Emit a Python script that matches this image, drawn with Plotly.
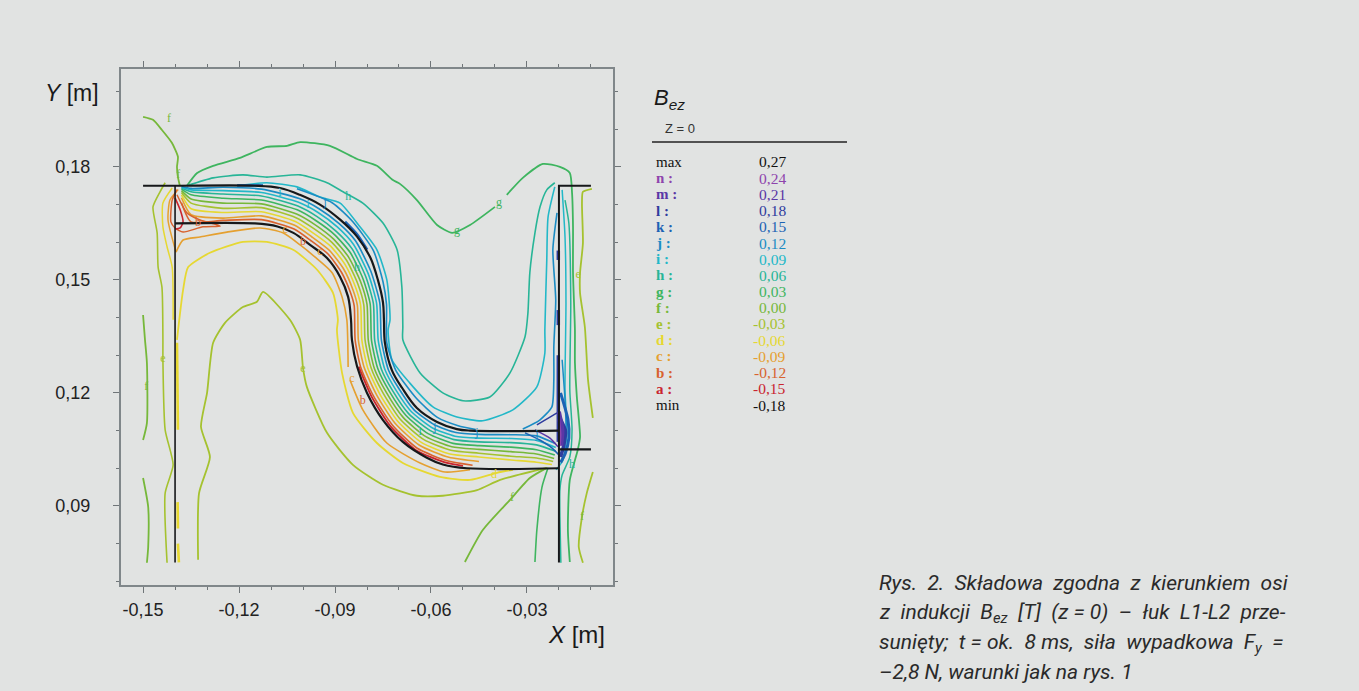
import plotly.graph_objects as go

W, H = 1359, 691
BG = "#e1e3e2"

# level colours
C = dict(n="#8e44ad", m="#5a37a6", l="#2f3c9e", k="#1c62b4", j="#1b8cc4", i="#22b8c8",
         h="#27b597", g="#3eb55f", f="#76b83a", e="#a5c22f", d="#e6d832", c="#e5a030",
         b="#d8622e", a="#c9252f")

# conductors (mm)
outer_x = [-150, -140, -115, -107.2, -101, -94.7, -88.4, -83.1, -79, -76.6, -75, -74.7, -74.4, -72.2, -69, -64.4, -58.1, -51.9, -47.8, -20]
outer_y = [175, 175, 175, 174.4, 172.6, 170, 166, 161.5, 156, 150, 144, 139.4, 133.3, 126, 121.3, 116, 112.3, 110.4, 110, 110]
inner_x = [-140, -115, -108, -103, -97.8, -92.5, -88.4, -85.9, -85, -84.7, -83.1, -80, -75, -68.8, -61.3, -56.3, -48.8, -20]
inner_y = [165, 165, 164.2, 162.5, 159.3, 155.8, 150.8, 145.5, 139.4, 134, 127, 120, 112.8, 107, 102.8, 101, 100, 100]
left_x = [-140, -140]
left_y = [175, 75]
right_x = [-10, -20, -20]
right_y = [175, 175, 75]
stub_x = [-20, -10]
stub_y = [105, 105]

# contour lines between the conductors
j_band_x = [-138, -135, -125, -113, -101.2, -95, -88.8, -83.6, -78.8, -76, -75.5, -73.3, -70, -65.3, -58.8, -52.2, -45, -35, -27, -21]
j_band_y = [174.8, 174.3, 174.6, 174.1, 171.6, 168.9, 165, 160.4, 152.3, 143.9, 134, 126.1, 121.1, 115.5, 111.5, 109.5, 109, 108.9, 108.6, 106.5]
i_band_x = [-138, -135, -125, -113, -101.4, -95.3, -89.2, -84.2, -79.6, -77, -76.5, -74.4, -71, -66.1, -59.5, -52.5, -45, -35, -27, -21]
i_band_y = [174.6, 173.9, 173.7, 173.2, 170.6, 167.9, 164, 159.4, 151.6, 143.8, 134, 126.2, 120.8, 115, 110.7, 108.5, 108, 107.9, 107.4, 105.5]
h_band_x = [-138, -135, -125, -113, -101.6, -95.6, -89.6, -84.7, -80.4, -78, -77.6, -75.5, -72, -67, -60.2, -52.8, -45, -35, -27, -21]
h_band_y = [174.4, 173.4, 172.8, 172.3, 169.6, 166.8, 162.9, 158.3, 150.9, 143.7, 134, 126.3, 120.6, 114.5, 110, 107.6, 107, 106.8, 106.2, 104.5]
g_band_x = [-138, -135, -125, -113, -101.8, -95.9, -90, -85.2, -81.2, -79, -78.6, -76.6, -73, -67.8, -60.9, -53.1, -45, -35, -27, -21.3]
g_band_y = [174.1, 172.6, 171.7, 171.2, 168.6, 165.7, 161.9, 157.2, 150.2, 143.6, 134, 126.4, 120.4, 114, 109.2, 106.6, 106, 105.6, 104.9, 103.5]
f_band_x = [-138, -135, -125, -113, -102, -96.3, -90.5, -85.8, -82, -80, -79.6, -77.7, -74, -68.7, -61.6, -53.5, -45, -35, -27, -21.5]
f_band_y = [173.7, 171.5, 170.4, 170.2, 167.5, 164.7, 160.9, 156.1, 149.5, 143.5, 134, 126.5, 120.2, 113.5, 108.4, 105.7, 105, 104.4, 103.8, 102.6]
e_band_x = [-138, -135, -125, -113, -102.2, -96.6, -90.9, -86.3, -82.8, -81, -80.6, -78.7, -75, -69.6, -62.2, -53.8, -45, -35, -27, -21.8]
e_band_y = [173.2, 170.4, 169, 169.2, 166.5, 163.6, 159.9, 155.1, 148.8, 143.4, 134, 126.6, 120, 113, 107.6, 104.8, 104, 103.2, 102.7, 101.8]
d_band_x = [-138, -135, -125, -113, -102.4, -96.9, -91.3, -86.8, -83.6, -82, -81.6, -79.8, -76, -70.4, -62.9, -54.1, -45, -35, -27, -22.2]
d_band_y = [172.6, 168.9, 167.9, 168.1, 165.5, 162.5, 158.9, 154, 148.1, 143.3, 134, 126.7, 119.7, 112.5, 106.8, 103.8, 103, 102.2, 101.6, 101]
c_band_x = [-138, -135, -125, -113, -102.6, -97.2, -91.7, -87.3, -84.4, -83, -82.7, -80.9, -77, -71.3, -63.6, -54.4, -45]
c_band_y = [171.8, 167.3, 166.4, 167, 164.5, 161.4, 157.8, 152.9, 147.4, 143.2, 134, 126.8, 119.5, 112, 106.1, 102.9, 101.8]
b_band_x = [-138, -135, -125, -113, -102.8, -97.5, -92.1, -87.9, -85.2, -84, -83.7, -82, -78, -72.1, -64.3, -54.7, -47]
b_band_y = [170.5, 165.4, 165.8, 166, 163.5, 160.4, 156.8, 151.9, 146.7, 143.1, 134, 126.9, 119.2, 111.5, 105.3, 101.9, 100.8]
a_band_x = [-82.6, -78.6, -72.7, -64.7, -55, -50]
a_band_y = [127, 119.1, 111.2, 104.8, 101.4, 100.6]

# contour lines outside the band
f_top_x = [-150, -146.9, -144.1, -141, -139.1, -139.4, -139.1, -138.5]
f_top_y = [193.3, 192.5, 189.8, 186.4, 182.7, 180, 177.3, 175]
g_main_x = [-136.3, -133.1, -128.1, -119.7, -111.3, -105, -100.9, -91.6, -83.1, -76.9, -71.9, -69.7, -64.4, -58.1, -53.4, -47.8, -40, None, -36.3, -31.3, -25, -19.7, -16.6, -15.9, -15.6, -15.6, -15, -15, -14.4, -13.4, -14.1, -16.6, -17.2, -16.6]
g_main_y = [175, 178.4, 180.3, 182.4, 185.3, 185.6, 186.6, 185.6, 182.1, 180.3, 176.5, 175.5, 171.2, 164.6, 162.5, 164.6, 169.4, None, 172.6, 177.1, 180.8, 180, 178.4, 173.1, 164.1, 151.9, 136.7, 128, 118.9, 108.3, 104.9, 96.9, 83.6, 75.1]
g_low_x = [-23.4, -25.3, -26.9, -27.5]
g_low_y = [100.1, 95, 83.6, 75.1]
f_right_x = [-9.7, -12.5, -12.8, -12.5, -13.4, -13.4, -11.9, -10.9, -9.4, None, -9.4, -11.3, -12.8, -13.8, -12.5]
f_right_y = [174.2, 173.4, 170.4, 159.8, 151.9, 146.5, 137.5, 123.4, 113.4, None, 99, 93.4, 87.1, 79.1, 74.9]
f_low_x = [-49.4, -43.8, -35.3, -29.1, -23.8]
f_low_y = [75.1, 83.6, 91.6, 97.4, 100.1]
f_left_x = [-150, -149.4, -148.8, -148.8, -150, None, -150, -148.4, -148.4, -148.8]
f_left_y = [140.7, 134.1, 128, 112, 107.5, None, 97.4, 89.7, 79.1, 74.9]
e_left_x = [-143.1, -144.7, -146.9, -145.6, -145.3, -144.1, -143.8, -143.8, -143.1, -140.6, -143.1, -142.5]
e_left_y = [175.8, 173.4, 169.4, 162.5, 153.4, 148.1, 134.1, 128.8, 110.2, 100.9, 93.4, 74.9]
e_peak_x = [-132.8, -132.5, -129.1, -131.9, -130, -128.1, -124.4, -118.8, -114.4, -112.5, -104.1, -100.9, -100, -98.8, -92.5, -84.4, -75, -64.4, -56.3, -45.6, -38.4, -23.8]
e_peak_y = [75.7, 93.4, 103, 111, 120, 133.3, 138.6, 142.8, 144.2, 146.8, 139.4, 134.1, 126.6, 121.6, 109.4, 100.9, 95.6, 92.7, 92.7, 94.2, 96.9, 100.1]
d_left_x = [-140.9, -143.8, -143.8, -142.5, -140.9, -140.6]
d_left_y = [174.4, 170.4, 164.1, 158.8, 153.4, 139.4]
d_wire_x = [-139.4, -139.1, None, -139.2, -139.1, None, -139.1, -138.8]
d_wire_y = [133.3, 110.2, None, 91, 84, None, 80, 75]
d_inner_x = [-139.4, -137.5, -135.9, -129.1, -118.8, -111.3, -103.1, -95.6, -90.6, -89.1, -89.4, -87.8, -84.4, -76.9, -68.8, -57.2, -47.8, -39.4, -34.4]
d_inner_y = [134.1, 147.3, 153.4, 157.2, 160.1, 160.1, 158, 152.7, 146.5, 139.4, 136.7, 125.3, 114.7, 106.7, 101.4, 97.7, 96.9, 98.8, 99.6]
c_left_x = [-139, -141.6, -142.2, -139.7]
c_left_y = [174, 171.2, 165.9, 157.4]
c_inner_x = [-139.7, -137.5, -132.2, -123.8, -113.4, -106.3, -100.9, -96.3, -90.9, -87.8, -86.3, -85.9, None, -85.3, -81.3, -73.8, -63.4, -55.6, -47.8]
c_inner_y = [157.4, 160.6, 161.4, 162.7, 163.8, 162.5, 159.3, 156.1, 151.9, 145.5, 139.4, 126.9, None, 123.4, 115.5, 106.7, 101.4, 99, 99.6]
b_loop_x = [-139.4, -136.3, -132.2, -125.9, -131.3, -137.5, -140, -141.3, -140.9, -139.4]
b_loop_y = [172.6, 167.8, 165.9, 164.3, 164.1, 162.7, 163.8, 165.4, 171.2, 174]
a_loop_x = [-140, -138.4, -137.5, -138.4, -140]
a_loop_y = [171.8, 168.6, 165.4, 163.8, 163.5]
h_outer_x = [-136.3, -128.1, -118.8, -111.3, -100.9, -92.5, -87.5, -81.3, -75, -70.6, -69.1, -68.8, -68.8, -63.4, -56.3, -50, -41.6, -35.3, -30.6, -29.7, -29.1, -27.5, -25.9, -23.8, -21.3]
h_outer_y = [175, 177.1, 177.9, 177.3, 177.9, 175.8, 173.4, 170.4, 165.1, 158, 148.1, 137.5, 134.1, 125.3, 120, 117.9, 118.9, 125.3, 134.9, 141.2, 151.9, 162.5, 169.4, 173.9, 175.8]
i_outer_x = [-120.6, -111.3, -101.9, -94.7, -88.4, -82.2, -76.9, -73.8, -72.8, -73.4, -72.2, -66.6, -59.4, -51.9, -43.8, -34.4, -26.9, -24.4, -24.4, -23.8, -23.4, -21.3]
i_outer_y = [175, 175.8, 174.7, 172, 170.4, 164.1, 158, 150, 139.4, 136.7, 128.8, 122.6, 116.3, 113.6, 112.6, 115.5, 121.6, 130.6, 136.7, 155.3, 166.7, 174.7]
j_outer_x = [-101.9, -90.9, -84.5, -78, -75, -73.9, -73.8, -71, -64.5, -58, -51.5, -46, None, -31.3, -26, -22.2, -21.6, -21.6, -21, -21.9, -20.6]
j_outer_y = [174.2, 170.5, 165.5, 157.8, 149.5, 143.5, 133.3, 126, 118.5, 113.5, 111.3, 110.3, None, 110.4, 112.8, 116.3, 123.4, 132.2, 144.7, 158, 167.8]
h_right_x = [-18.1, -16.9, -16.3, -16.6, -15.9, -16.6, -19, -19.7, -19.7, -19.4]
h_right_y = [171.2, 165.1, 143.9, 120.8, 110.2, 103, 98.2, 94.2, 87.1, 74.9]
i_right_x = [-19, -18.1, -17.8, -18.1, -17.5, -18.7, -20.9]
i_right_y = [173.9, 161.4, 143.9, 120.8, 109.4, 102.2, 99.6]
j_right_x = [-19, -18.1, -17.8, -19]
j_right_y = [128.8, 118.1, 109.4, 104]
k_fan_x = [-30.6, -26, -22.2, -20]
k_fan_y = [109.4, 107.5, 105.4, 103.5]
k_arc_x = [-86.9, -83.1, -80]
k_arc_y = [165.4, 162, 158]
k_top_x = [-120.6, -112.5]
k_top_y = [175.1, 175.1]
k_wire_x = [-20.2, -20.2, None, -20.2, -20.2, None, -20.2, -20.2]
k_wire_y = [157.8, 155.3, None, 142, 138, None, 130, 107]
k_blob_x = [-19.5, -17.2, -16.9, -18, -19.5]
k_blob_y = [120, 113, 108, 104, 101.5]
l_fan_x = [-26.9, -22.8, -20.6]
l_fan_y = [111.5, 113.6, 114.7]
l_right_x = [-19.5, -18, -18.5, -19.5]
l_right_y = [113, 110, 106, 103]
m_fan_x = [-27.5, -22.8, -20.3]
m_fan_y = [110.2, 108, 105.7]
m_right_x = [-20, -18.9, -19.3]
m_right_y = [115, 110, 106]
n_right_x = [-20, -19.6, -19.8]
n_right_y = [113, 109, 106]

# (level, x, y, width)
contours = [
    ("a", a_band_x, a_band_y, 1.8), ("b", b_band_x, b_band_y, 1.6), ("c", c_band_x, c_band_y, 1.6),
    ("d", d_band_x, d_band_y, 1.6), ("e", e_band_x, e_band_y, 1.6), ("f", f_band_x, f_band_y, 1.6),
    ("g", g_band_x, g_band_y, 1.6), ("h", h_band_x, h_band_y, 1.6), ("i", i_band_x, i_band_y, 1.6),
    ("j", j_band_x, j_band_y, 1.6),
    ("f", f_top_x, f_top_y, 1.8), ("g", g_main_x, g_main_y, 1.8), ("g", g_low_x, g_low_y, 1.6),
    ("e", f_right_x, f_right_y, 1.8), ("f", f_low_x, f_low_y, 1.8), ("f", f_left_x, f_left_y, 1.8),
    ("e", e_left_x, e_left_y, 1.6), ("e", e_peak_x, e_peak_y, 1.8),
    ("d", d_left_x, d_left_y, 1.5), ("d", d_wire_x, d_wire_y, 2.6), ("d", d_inner_x, d_inner_y, 1.8),
    ("c", c_left_x, c_left_y, 1.5), ("c", c_inner_x, c_inner_y, 1.6),
    ("b", b_loop_x, b_loop_y, 1.5), ("a", a_loop_x, a_loop_y, 1.6),
    ("h", h_outer_x, h_outer_y, 1.6), ("i", i_outer_x, i_outer_y, 1.6), ("j", j_outer_x, j_outer_y, 1.6),
    ("h", h_right_x, h_right_y, 1.5), ("i", i_right_x, i_right_y, 1.5), ("j", j_right_x, j_right_y, 1.5),
    ("k", k_fan_x, k_fan_y, 1.5), ("k", k_arc_x, k_arc_y, 3), ("k", k_top_x, k_top_y, 2.5),
    ("l", k_wire_x, k_wire_y, 3.5), ("k", k_blob_x, k_blob_y, 3), ("l", l_fan_x, l_fan_y, 1.5),
    ("l", l_right_x, l_right_y, 3.5), ("m", m_fan_x, m_fan_y, 1.5), ("m", m_right_x, m_right_y, 4),
    ("n", n_right_x, n_right_y, 2.5),
]

# letters written along the contours
mark_letters = ["f", "f", "h", "g", "g", "c", "b", "c", "b", "e", "e", "f", "c", "b", "d", "f", "f", "h", "j", "j", "j", "i", "i", "j", "i", "h", "e"]
mark_x = [-141.9, -139, -85.9, -38.7, -51.9, -105.6, -100, -94.7, -132.8, -100, -143.8, -149, -84.7, -81.3, -40.3, -34.7, -12.8, -15.9, -45.6, -26.9, -58.8, -63.4, -98.4, -93.1, -107.2, -83.1, -14]
mark_y = [192.7, 177.9, 172, 170.4, 163, 163.3, 160, 157.4, 165.1, 126.4, 129, 121.6, 123.7, 117.9, 98.2, 92.1, 87.1, 100.9, 109.4, 108.8, 110.7, 109.6, 170, 170.4, 173.2, 153.1, 151.3]

# axes
x_ticks = [-150, -120, -90, -60, -30]
x_labels = ["-0,15", "-0,12", "-0,09", "-0,06", "-0,03"]
y_ticks = [180, 150, 120, 90]
y_labels = ["0,18", "0,15", "0,12", "0,09"]

# legend table
legend_names = ["max", "n :", "m :", "l :", "k :", "j :", "i :", "h :", "g :", "f :", "e :", "d :", "c :", "b :", "a :", "min"]
legend_values = ["0,27", "0,24", "0,21", "0,18", "0,15", "0,12", "0,09", "0,06", "0,03", "0,00", "-0,03", "-0,06", "-0,09", "-0,12", "-0,15", "-0,18"]
legend_keys = [None, "n", "m", "l", "k", "j", "i", "h", "g", "f", "e", "d", "c", "b", "a", None]

caption_lines = [
    "Rys.  2.  Składowa  zgodna  z  kierunkiem  osi",
    "z  indukcji  B<sub>ez</sub>  [T]  (z = 0)  –  łuk  L1-L2  prze-",
    "sunięty;  t = ok.  8 ms,  siła  wypadkowa  F<sub>y</sub>  =",
    "–2,8 N, warunki jak na rys. 1",
]

fig = go.Figure()
for key, xs, ys, w in contours:
    fig.add_trace(go.Scatter(x=xs, y=ys, mode="lines", showlegend=False, hoverinfo="skip",
                             line=dict(color=C[key], width=w, shape="spline", smoothing=0.6)))
for xs, ys, w, sp in [(outer_x, outer_y, 2.2, "spline"), (inner_x, inner_y, 2.2, "spline"),
                      (left_x, left_y, 1.6, "linear"), (right_x, right_y, 2, "linear"),
                      (stub_x, stub_y, 2.2, "linear")]:
    fig.add_trace(go.Scatter(x=xs, y=ys, mode="lines", showlegend=False, hoverinfo="skip",
                             line=dict(color="#16181a", width=w, shape=sp)))
fig.add_trace(go.Scatter(x=mark_x, y=mark_y, mode="text", text=mark_letters, showlegend=False, hoverinfo="skip",
                         textfont=dict(family="Liberation Serif", size=12,
                                       color=[C[k] for k in mark_letters])))

ann = []
def text(px, py, s, size=12, color="#1a1a1a", family="Liberation Sans", xanchor="left"):
    ann.append(dict(xref="paper", yref="paper", x=px / W, y=1 - py / H, text=s, showarrow=False,
                    xanchor=xanchor, yanchor="middle", align="left",
                    font=dict(size=size, color=color, family=family)))

text(43, 93, "<i>Y</i> [m]", 23)
text(546, 634, "<i>X</i> [m]", 24)
text(652, 99, "<i>B<sub>ez</sub></i>", 22)
text(663, 128, "Z = 0", 13, "#333333")
for i, (nm, val, k) in enumerate(zip(legend_names, legend_values, legend_keys)):
    col = C[k] if k else "#111111"
    py = 162 + i * 16.2
    text(654, py, ("<b>%s</b>" % nm) if k else nm, 15, col, "Liberation Serif")
    text(788, py, val, 15.5, col, "Liberation Serif", "right")
for s, py in zip(caption_lines, [583, 613, 643, 672]):
    text(877, py, "<i>%s</i>" % s, 21, "#2a2a2a", "Roboto")

axis_common = dict(showgrid=False, zeroline=False, showline=True, linecolor="#80878a", linewidth=2,
                   mirror="ticks", ticks="outside", tickcolor="#6f7578", tickwidth=1, ticklen=6,
                   tickfont=dict(family="Liberation Sans", size=18, color="#222222"))
fig.update_layout(
    width=W, height=H, margin=dict(l=0, r=0, t=0, b=0), paper_bgcolor=BG, plot_bgcolor=BG,
    annotations=ann,
    shapes=[dict(type="line", xref="paper", yref="paper", x0=652 / W, x1=847 / W, y0=1 - 142 / H, y1=1 - 142 / H,
                 line=dict(color="#222222", width=1.3))],
    xaxis=dict(domain=[121 / W, 613 / W], range=[-156.9, -3.1], tickvals=x_ticks, ticktext=x_labels,
               ticklabelstandoff=1, minor=dict(tick0=-150, dtick=10, ticks="outside", ticklen=3, tickcolor="#6f7578", showgrid=False),
               **axis_common),
    yaxis=dict(domain=[1 - 585 / H, 1 - 69 / H], range=[69.0, 206.0], tickvals=y_ticks, ticktext=y_labels,
               ticklabelstandoff=19, minor=dict(tick0=70, dtick=10, ticks="outside", ticklen=3, tickcolor="#6f7578", showgrid=False),
               **axis_common),
)
fig.write_html("out.html", config=dict(displayModeBar=False),
               post_script="document.body.style.margin='0';document.body.style.background='%s';" % BG)
